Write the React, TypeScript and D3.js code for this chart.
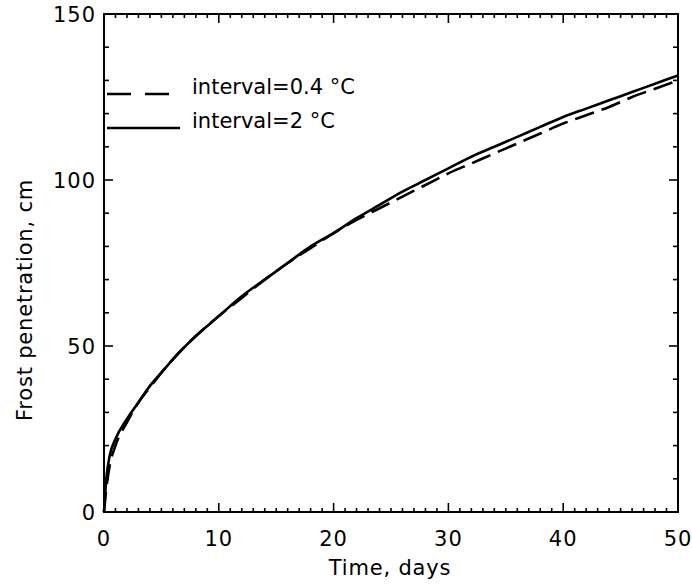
import React from 'react';
import * as d3 from 'd3';

// days
const days = [0, 0.2, 0.5, 1, 2, 3, 4, 5, 6, 8, 10, 12, 14, 16, 18, 20, 22, 24, 26, 28, 30, 32, 34, 36, 38, 40, 42, 44, 46, 48, 50];
// frost penetration, cm
const fine = [0, 7, 14, 20, 27, 33, 37.5, 42, 46, 53, 59, 64.5, 70, 75, 79.5, 84, 88, 91.5, 95, 98.5, 102, 105, 108, 111, 114, 117, 119.5, 122, 125, 127.5, 130];
const coarse = [0, 10, 17, 22, 28, 33, 38, 42, 46, 53, 59, 65, 70, 75, 80, 84, 88.5, 92.5, 96.5, 100, 103.5, 107, 110, 113, 116, 119, 121.5, 124, 126.5, 129, 131.5];

const xTicks = [0, 10, 20, 30, 40, 50];
const yTicks = [0, 50, 100, 150];
const legendLabels = ['interval=0.4 °C', 'interval=2 °C'];

const W = 692;
const H = 588;
const left = 104;
const right = 678;
const top = 14;
const bottom = 512;

const font = '"DejaVu Sans", sans-serif';

export default function App() {
  const x = d3.scaleLinear().domain([0, 50]).range([left, right]);
  const y = d3.scaleLinear().domain([0, 150]).range([bottom, top]);

  const line = d3
    .line<number>()
    .x((_, i) => x(days[i]))
    .y(d => y(d))
    .curve(d3.curveMonotoneX);

  const xMinor = d3.range(0, 51);
  const yMinor = d3.range(0, 151, 10);

  return (
    <svg width={W} height={H} style={{ position: 'absolute', left: 0, top: 0, background: '#fff' }}>
      {/* frame */}
      <rect x={left} y={top} width={right - left} height={bottom - top} fill="none" stroke="#000" strokeWidth={2} />

      {/* x ticks, bottom and top, pointing inward */}
      {xMinor.map(d => {
        const len = d % 10 === 0 ? 9 : 4;
        return (
          <g key={'xt' + d} stroke="#000" strokeWidth={1.6}>
            <line x1={x(d)} x2={x(d)} y1={bottom} y2={bottom - len} />
            <line x1={x(d)} x2={x(d)} y1={top} y2={top + len} />
          </g>
        );
      })}

      {/* y ticks, left and right */}
      {yMinor.map(d => {
        const len = d % 50 === 0 ? 9 : 5;
        return (
          <g key={'yt' + d} stroke="#000" strokeWidth={1.6}>
            <line x1={left} x2={left + len} y1={y(d)} y2={y(d)} />
            <line x1={right} x2={right - len} y1={y(d)} y2={y(d)} />
          </g>
        );
      })}

      {/* tick labels */}
      {xTicks.map(d => (
        <text key={'xl' + d} x={x(d)} y={bottom + 34} textAnchor="middle" fontFamily={font} fontSize={21} letterSpacing={1}>
          {d}
        </text>
      ))}
      {yTicks.map(d => (
        <text key={'yl' + d} x={left - 8} y={y(d)} dy="0.36em" textAnchor="end" fontFamily={font} fontSize={21} letterSpacing={1}>
          {d}
        </text>
      ))}

      {/* axis titles */}
      <text x={390} y={575} textAnchor="middle" fontFamily={font} fontSize={21} letterSpacing={0.8}>
        Time, days
      </text>
      <text
        transform={`translate(32, 300) rotate(-90)`}
        textAnchor="middle"
        fontFamily={font}
        fontSize={21}
        letterSpacing={0.8}
      >
        Frost penetration, cm
      </text>

      {/* curves */}
      <path d={line(coarse) || ''} fill="none" stroke="#000" strokeWidth={2.6} />
      <path d={line(fine) || ''} fill="none" stroke="#000" strokeWidth={2.6} strokeDasharray="20 8" />

      {/* legend */}
      <line x1={left + 3} x2={175} y1={94} y2={94} stroke="#000" strokeWidth={2.4} strokeDasharray="24 14" />
      <line x1={left + 3} x2={180} y1={128} y2={128} stroke="#000" strokeWidth={2.4} />
      <text x={192} y={94} fontFamily={font} fontSize={21}>
        {legendLabels[0]}
      </text>
      <text x={192} y={128} fontFamily={font} fontSize={21}>
        {legendLabels[1]}
      </text>
    </svg>
  );
}
